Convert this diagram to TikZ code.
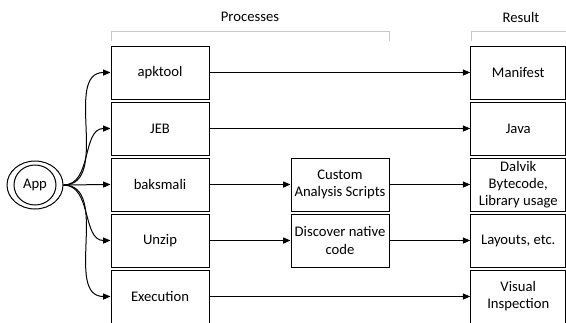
\documentclass[tikz,border=0pt]{standalone}
\usepackage{fontspec}
\setmainfont{Carlito}
\usepackage{xcolor}
\usetikzlibrary{shapes.geometric}
\usetikzlibrary{arrows.meta}
\usetikzlibrary{positioning}

\definecolor{bracketgray}{RGB}{200,200,200}

\tikzset{
	procbox/.style={draw, rectangle, line width=0.75pt, minimum width=73.5pt, minimum height=39.75pt, inner sep=1pt, align=center, font=\fontsize{11}{12.8}\selectfont},
	resbox/.style={procbox, minimum width=71.25pt},
	flow/.style={->, line width=0.75pt},
	bracket/.style={draw=bracketgray, line width=0.75pt}
}

\begin{document}
\begin{tikzpicture}[x=0.75pt,y=-0.75pt,>={Triangle[length=5.5pt,width=4.5pt]}]
	\useasboundingbox (0,0) rectangle (566,322);
	% headers
	\node[font=\fontsize{11}{13}\selectfont] (proclabel) at (250,17) {Processes};
	\node[font=\fontsize{11}{13}\selectfont] (reslabel) at (521,17) {Result};
	\draw[bracket] (111,41) -- (111,31) -- (389,31) -- (389,41);
	\draw[bracket] (471,41) -- (471,31) -- (566,31);
	% app
	\node[draw, ellipse, line width=0.75pt, minimum width=42pt, minimum height=36pt] (app) at (35,185) {};
	\node[draw, ellipse, line width=0.75pt, minimum width=31.5pt, minimum height=30pt, inner sep=0pt, font=\fontsize{11}{13}\selectfont] (appin) at (35,185) {App};
	% processes
	\node[procbox] (apktool) at (160,72.5) {apktool};
	\node[procbox] (jeb) at (160,128.5) {JEB};
	\node[procbox] (baksmali) at (160,184.5) {baksmali};
	\node[procbox] (unzip) at (160,240.5) {Unzip};
	\node[procbox] (execution) at (160,296.5) {Execution};
	% intermediate steps
	\node[procbox] (scripts) at (340,184.5) {Custom\\Analysis Scripts};
	\node[procbox] (native) at (340,240.5) {Discover native\\code};
	% results
	\node[resbox] (manifest) at (518.25,72.5) {Manifest};
	\node[resbox] (java) at (518.25,128.5) {Java};
	\node[resbox] (dalvik) at (518.25,184.5) {Dalvik\\Bytecode,\\Library usage};
	\node[resbox] (layouts) at (518.25,240.5) {Layouts, etc.};
	\node[resbox] (visual) at (518.25,296.5) {Visual\\Inspection};
	% app to processes
	\foreach \proc in {apktool,jeb,baksmali,unzip,execution}
	{
		\draw[flow] (app.east) to[out=0,in=180] (\proc.west);
	}
	% processes to results
	\draw[flow] (apktool) -- (manifest);
	\draw[flow] (jeb) -- (java);
	\draw[flow] (baksmali) -- (scripts);
	\draw[flow] (scripts) -- (dalvik);
	\draw[flow] (unzip) -- (native);
	\draw[flow] (native) -- (layouts);
	\draw[flow] (execution) -- (visual);
\end{tikzpicture}
\end{document}
